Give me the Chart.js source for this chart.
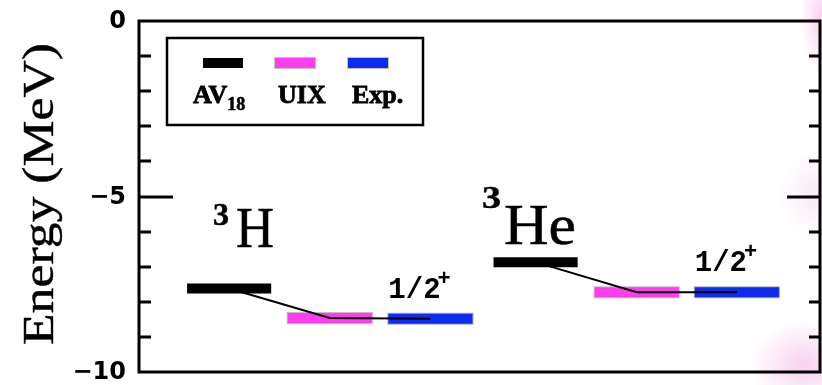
<!DOCTYPE html>
<html>
<head>
<meta charset="utf-8">
<script src="https://cdn.jsdelivr.net/npm/chart.js@4.4.1/dist/chart.umd.min.js"></script>
<style>
  html, body { margin: 0; padding: 0; }
  body {
    width: 822px; height: 385px; overflow: hidden;
    background:
      radial-gradient(ellipse 22px 55px at 822px 18px, rgba(240,170,225,0.55), rgba(255,255,255,0)),
      radial-gradient(ellipse 40px 45px at 818px 195px, rgba(248,205,238,0.45), rgba(255,255,255,0)),
      radial-gradient(ellipse 55px 45px at 805px 365px, rgba(242,170,225,0.55), rgba(255,255,255,0)),
      #ffffff;
  }
  canvas { display: block; }
</style>
</head>
<body>
<canvas id="levels" width="822" height="385"></canvas>
<script>
// binding energies (MeV) for the two A=3 nuclei
const nuclei = ['3H', '3He'];
const av18 = [-7.62, -6.87];
const uix = [-8.46, -7.73];
const expt = [-8.48, -7.73];
const spinLabel = '1/2';
const yTickLabels = { '0': '0', '-5': '\u22125', '-10': '\u221210' };

// column centres on the x scale, one triple per nucleus
const columns = [[0.9, 1.905, 2.91], [3.96, 4.97, 5.97]];
const halfWidth = 0.42;

const BLACK = '#000000';
const MAGENTA = '#ff3cf0';
const BLUE = '#0c2cf2';
const SERIF = '"Liberation Serif", serif';

function level(x, y) {
  return [{ x: x - halfWidth, y: y }, { x: x + halfWidth, y: y }];
}

function seg(data, color, width, order) {
  return {
    type: 'line', data: data, borderColor: color, borderWidth: width,
    pointRadius: 0, fill: false, tension: 0, order: order, borderCapStyle: 'butt'
  };
}

const datasets = [];
nuclei.forEach((n, i) => {
  const c = columns[i];
  // connector through the level centres
  datasets.push(seg([
    { x: c[0], y: av18[i] }, { x: c[1], y: uix[i] }, { x: c[2], y: expt[i] }
  ], BLACK, 2, 0));
  datasets.push(seg(level(c[0], av18[i]), BLACK, 10, 1));
  datasets.push(seg(level(c[1], uix[i]), MAGENTA, 10, 1));
  datasets.push(seg(level(c[2], expt[i]), BLUE, 10, 1));
  // faint grey rim under the coloured levels
  datasets.push(seg([{ x: c[1] - halfWidth - 0.01, y: uix[i] }, { x: c[1] + halfWidth + 0.01, y: uix[i] }], 'rgba(150,150,150,0.6)', 12, 2));
  datasets.push(seg([{ x: c[2] - halfWidth - 0.01, y: expt[i] }, { x: c[2] + halfWidth + 0.01, y: expt[i] }], 'rgba(120,120,140,0.6)', 12, 2));
});

// draw text stretched to a given width, optionally thickened
function fitText(ctx, text, x, y, width, heavy) {
  const w = ctx.measureText(text).width;
  ctx.save();
  ctx.translate(x, y);
  ctx.scale(width / w, 1);
  ctx.fillText(text, 0, 0);
  if (heavy) {
    ctx.lineWidth = heavy;
    ctx.strokeStyle = ctx.fillStyle;
    ctx.strokeText(text, 0, 0);
  }
  ctx.restore();
}

function heavyText(ctx, text, x, y, lw) {
  ctx.fillText(text, x, y);
  ctx.save();
  ctx.lineWidth = lw;
  ctx.strokeStyle = ctx.fillStyle;
  ctx.strokeText(text, x, y);
  ctx.restore();
}

const decor = {
  id: 'decor',
  afterDatasetsDraw(chart) {
    const ctx = chart.ctx;
    const a = chart.chartArea;
    const xs = chart.scales.x, ys = chart.scales.y;
    ctx.save();

    // frame
    ctx.strokeStyle = BLACK;
    ctx.lineWidth = 3;
    ctx.strokeRect(a.left, a.top, a.right - a.left, a.bottom - a.top);

    // inward ticks on both sides
    for (let v = -1; v >= -9; v--) {
      const py = Math.round(ys.getPixelForValue(v));
      const major = v === -5;
      ctx.beginPath();
      ctx.moveTo(a.left, py); ctx.lineTo(a.left + (major ? 34 : 12), py);
      ctx.moveTo(a.right, py); ctx.lineTo(a.right - (major ? 33 : 11), py);
      ctx.stroke();
    }

    // tick labels
    ctx.fillStyle = BLACK;
    ctx.font = 'bold 24px "DejaVu Sans"';
    ctx.textAlign = 'right';
    ctx.textBaseline = 'middle';
    Object.keys(yTickLabels).forEach(k => {
      ctx.fillText(yTickLabels[k], a.left - 13, ys.getPixelForValue(Number(k)) + 1);
    });

    // axis title, reads bottom to top
    ctx.save();
    ctx.translate(53, 194);
    ctx.rotate(-Math.PI / 2);
    ctx.font = '45px ' + SERIF;
    ctx.textAlign = 'left';
    ctx.textBaseline = 'alphabetic';
    fitText(ctx, 'Energy (MeV)', -151, 0, 302, 0.4);
    ctx.restore();

    // nucleus names
    ctx.textAlign = 'left';
    ctx.textBaseline = 'alphabetic';
    ctx.font = 'bold 32px ' + SERIF;
    fitText(ctx, '3', 213, 225, 16, 0.5);
    fitText(ctx, '3', 482, 208, 19, 0.5);
    ctx.font = '56px ' + SERIF;
    fitText(ctx, 'H', 236, 247, 38, 0.5);
    fitText(ctx, 'He', 504, 244, 72, 0.5);

    // spin-parity above the experimental levels
    nuclei.forEach((n, i) => {
      const px = xs.getPixelForValue(columns[i][2] - halfWidth);
      const py = ys.getPixelForValue(expt[i]) - 21;
      ctx.font = 'bold 29px "Liberation Mono"';
      ctx.fillText(spinLabel, px, py);
      const w = ctx.measureText(spinLabel).width;
      ctx.font = 'bold 22px "Liberation Mono"';
      ctx.fillText('+', px + w - 3, py - 13);
    });

    // legend
    ctx.lineWidth = 2.5;
    ctx.strokeRect(167, 38, 256, 87);
    const items = [
      { color: BLACK, x0: 203, label: 'AV', sub: '18', lx: 193 },
      { color: MAGENTA, x0: 275, label: 'UIX', lx: 278 },
      { color: BLUE, x0: 348, label: 'Exp.', lx: 352 }
    ];
    items.forEach(it => {
      if (it.color !== BLACK) {
        ctx.fillStyle = 'rgba(150,150,150,0.6)';
        ctx.fillRect(it.x0 - 1, 57, 42, 12);
      }
      ctx.fillStyle = it.color;
      ctx.fillRect(it.x0, 58, 40, 10);
      ctx.fillStyle = BLACK;
      ctx.font = 'bold 26px ' + SERIF;
      heavyText(ctx, it.label, it.lx, 103, 0.8);
      if (it.sub) {
        const w = ctx.measureText(it.label).width;
        ctx.font = 'bold 18px ' + SERIF;
        heavyText(ctx, it.sub, it.lx + w, 110, 0.6);
      }
    });

    ctx.restore();
  }
};

new Chart(document.getElementById('levels'), {
  type: 'line',
  data: { datasets: datasets },
  options: {
    responsive: false,
    animation: false,
    layout: { padding: { left: 139, top: 21, right: 2, bottom: 13 } },
    plugins: { legend: { display: false }, tooltip: { enabled: false } },
    scales: {
      x: { type: 'linear', min: 0, max: 6.8, display: false },
      y: { type: 'linear', min: -10, max: 0, display: false }
    }
  },
  plugins: [decor]
});
</script>
</body>
</html>
